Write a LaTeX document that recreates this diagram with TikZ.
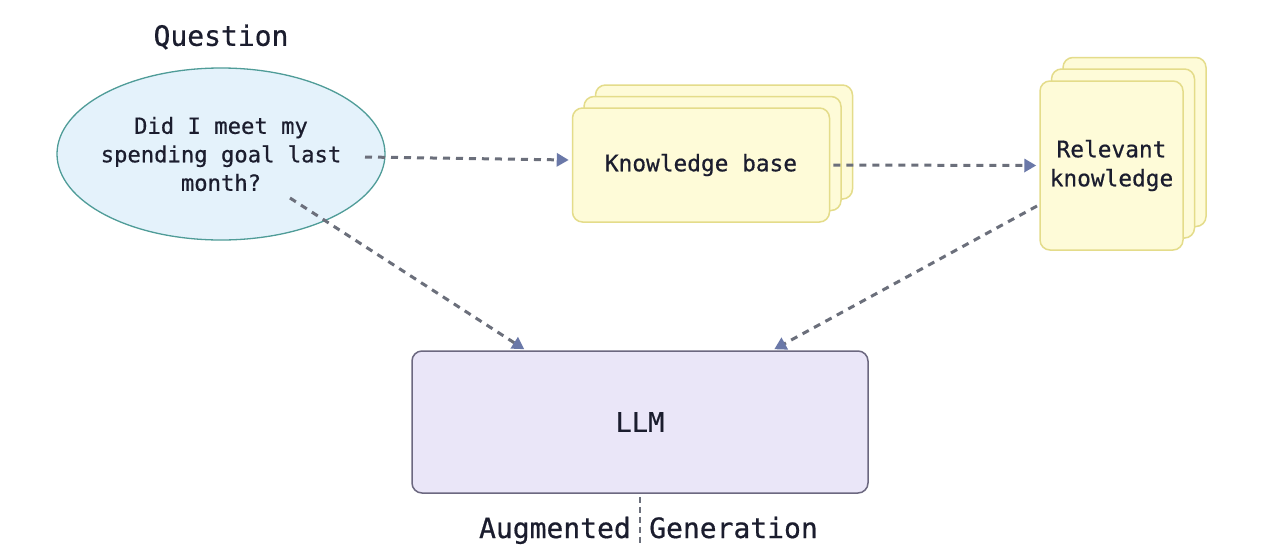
\documentclass[tikz,border=0pt]{standalone}
\usepackage{fontspec}
\setmonofont[FakeBold=0.6]{DejaVu Sans Mono}
\usetikzlibrary{shapes.geometric,arrows.meta,calc}
\definecolor{txt}{HTML}{1B1D2E}
\definecolor{qfill}{HTML}{E4F2FB}
\definecolor{qdraw}{HTML}{4F9C98}
\definecolor{yfill}{HTML}{FEFBD8}
\definecolor{ydraw}{HTML}{E4DC8A}
\definecolor{lfill}{HTML}{EAE6F8}
\definecolor{ldraw}{HTML}{6C6880}
\definecolor{dashc}{HTML}{6B6F7B}
\definecolor{headc}{HTML}{6A78A8}
\tikzset{
  card/.style={draw=ydraw, fill=yfill, line width=1.5pt, rounded corners=10pt, inner sep=0pt, text=txt, align=center, font=\ttfamily\fontsize{22.8}{29}\selectfont},
  flow/.style={dashc, line width=3pt, dash pattern=on 7pt off 6pt, -{Triangle[length=12pt,width=13pt,fill=headc,color=headc]}},
  lbl/.style={text=txt, font=\ttfamily\fontsize{28}{32}\selectfont, inner sep=0pt}
}
\begin{document}
\begin{tikzpicture}[x=1pt,y=-1pt]
\useasboundingbox[fill=white] (0,0) rectangle (1279,544);
% Question
\node[lbl] (qt) at (221,37) {Question};
\node[ellipse, draw=qdraw, fill=qfill, line width=1.3pt, minimum width=328pt, minimum height=172pt, inner sep=0pt] (q) at (221,154) {};
\node[align=center, text=txt, inner sep=0pt, font=\ttfamily\fontsize{22.2}{28.5}\selectfont] (qtext) at (q.center) {Did I meet my\\spending goal last\\month?};
% Knowledge base stack
\node[card, minimum width=257pt, minimum height=114pt] (kb3) at (724,142) {};
\node[card, minimum width=257pt, minimum height=114pt] (kb2) at (712.5,153.5) {};
\node[card, minimum width=257pt, minimum height=114pt] (kb) at (701,165) {Knowledge base};
% Relevant knowledge stack
\node[card, minimum width=143pt, minimum height=169pt] (rk3) at (1134.5,142) {};
\node[card, minimum width=143pt, minimum height=169pt] (rk2) at (1123,153.5) {};
\node[card, minimum width=143pt, minimum height=169pt] (rk) at (1111.5,165.5) {Relevant\\knowledge};
% LLM
\node[draw=ldraw, fill=lfill, line width=1.5pt, rounded corners=10pt, minimum width=456pt, minimum height=142pt, inner sep=0pt, text=txt, font=\ttfamily\fontsize{27}{30}\selectfont] (llm) at (640,422) {LLM};
% bottom labels
\node[lbl, anchor=base east] (aug) at (631,538) {Augmented};
\node[lbl, anchor=base west] (gen) at (649,538) {Generation};
% connector points
\coordinate (q1) at (365,157);
\coordinate (q2) at (290,198);
\coordinate (r1) at (1037,206);
\coordinate (l1) at ($(llm.north west)+(113,-1)$);
\coordinate (l2) at ($(llm.north west)+(363,-1)$);
\coordinate (bot) at (640,544);
% connectors
\draw[flow] (q1) -- ($(kb.west)+(-3,-5)$);
\draw[flow] ($(kb.east)+(3,0)$) -- ($(rk.west)+(-3,0)$);
\draw[flow] (q2) -- (l1);
\draw[flow] (r1) -- (l2);
\draw[dashc, line width=2pt, dash pattern=on 6pt off 4pt] ($(llm.south)+(0,3)$) -- (bot);
\end{tikzpicture}
\end{document}
